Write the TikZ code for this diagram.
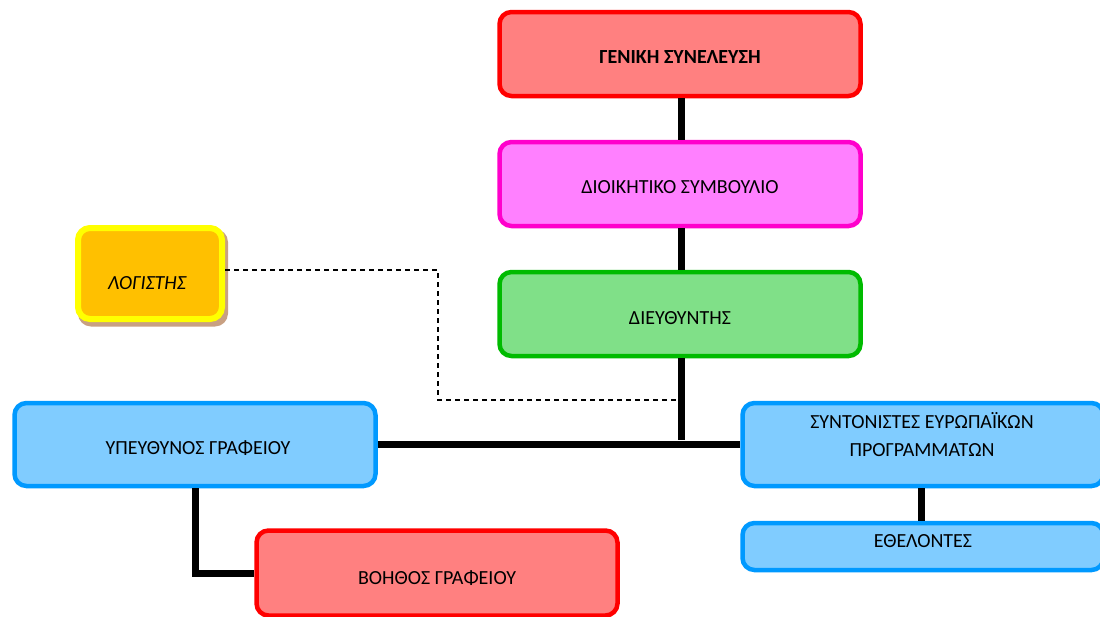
\documentclass[tikz,border=0pt]{standalone}
\usepackage{fontspec}
\setmainfont{Carlito}
\definecolor{redB}{RGB}{255,0,0}
\definecolor{redF}{RGB}{255,128,128}
\definecolor{magB}{RGB}{255,0,204}
\definecolor{magF}{RGB}{255,128,255}
\definecolor{grnB}{RGB}{0,187,0}
\definecolor{grnF}{RGB}{128,224,136}
\definecolor{bluB}{RGB}{0,153,255}
\definecolor{bluF}{RGB}{128,204,255}
\definecolor{yelB}{RGB}{255,255,0}
\definecolor{yelF}{RGB}{255,192,0}
\definecolor{shad}{RGB}{200,160,130}
\begin{document}
\begin{tikzpicture}[x=1pt,y=-1pt,
  box/.style={rounded corners=12pt, line width=4.5pt, inner sep=0pt, align=center, font=\fontsize{20}{28}\selectfont},
  redbox/.style={box, draw=redB, fill=redF},
  magbox/.style={box, draw=magB, fill=magF},
  grnbox/.style={box, draw=grnB, fill=grnF},
  bluebox/.style={box, draw=bluB, fill=bluF},
  down/.style={text height={12.9pt+2*#1}, text depth=0pt},
  up/.style={text height=12.9pt, text depth={2*#1}},
  conn/.style={line width=7pt},
  dashconn/.style={line width=1.5pt, dash pattern=on 5pt off 4pt}
]
\useasboundingbox (0,0) rectangle (1100,616);
\clip (0,0) rectangle (1100,616);
\fill[white] (0,0) rectangle (1100,616);

% nodes
\node[redbox, down=3pt, minimum width=361pt, minimum height=84pt, font=\fontsize{20}{28}\selectfont\bfseries] (gen) at (680,54) {ΓΕΝΙΚΗ ΣΥΝΕΛΕΥΣΗ};
\node[magbox, down=3pt, minimum width=361pt, minimum height=84pt] (dioik) at (680,184) {ΔΙΟΙΚΗΤΙΚΟ ΣΥΜΒΟΥΛΙΟ};
\node[grnbox, down=4.5pt, minimum width=361pt, minimum height=84pt] (dieu) at (680,314) {ΔΙΕΥΘΥΝΤΗΣ};
\node[bluebox, down=3.5pt, minimum width=361pt, minimum height=83pt] (ypeu) at (195,444.5) {\hspace*{6pt}ΥΠΕΥΘΥΝΟΣ ΓΡΑΦΕΙΟΥ};
\node[bluebox, minimum width=361pt, minimum height=83pt] (synt) at (923,444.5) {};
\node[font=\fontsize{20}{28}\selectfont, align=center] (synttext) at (922,435) {ΣΥΝΤΟΝΙΣΤΕΣ ΕΥΡΩΠΑΪΚΩΝ\\ΠΡΟΓΡΑΜΜΑΤΩΝ};
\node[bluebox, up=5pt, minimum width=361pt, minimum height=47pt] (ethel) at (923,546.5) {ΕΘΕΛΟΝΤΕΣ};
\node[redbox, down=5pt, minimum width=361pt, minimum height=85pt] (voith) at (437,573) {ΒΟΗΘΟΣ ΓΡΑΦΕΙΟΥ};

% logistis with shadow
\fill[rounded corners=13pt, shad] (78,229) rectangle (228,326.5);
\node[box, down=10pt, draw=yelB, line width=6pt, fill=yelF, minimum width=144pt, minimum height=91pt, font=\fontsize{20}{28}\selectfont\itshape] (log) at (150,273.5) {ΛΟΓΙΣΤΗΣ\hspace*{6pt}};

% connectors
\coordinate (j) at (681,443);
\coordinate (jd) at (681,400);
\draw[conn] (gen.south -| j) -- (dioik.north -| j);
\draw[conn] (dioik.south -| j) -- (dieu.north -| j);
\draw[conn] (dieu.south -| j) -- ([yshift=3.5pt]j);
\draw[conn] (ypeu.east) -- (synt.west);
\draw[conn] (ypeu.south) |- (voith.west);
\draw[conn] (synt.south -| 921,0) -- (ethel.north -| 921,0);
\draw[dashconn] (log.east |- 0,270) -- (438,270) |- (jd);
\end{tikzpicture}
\end{document}
